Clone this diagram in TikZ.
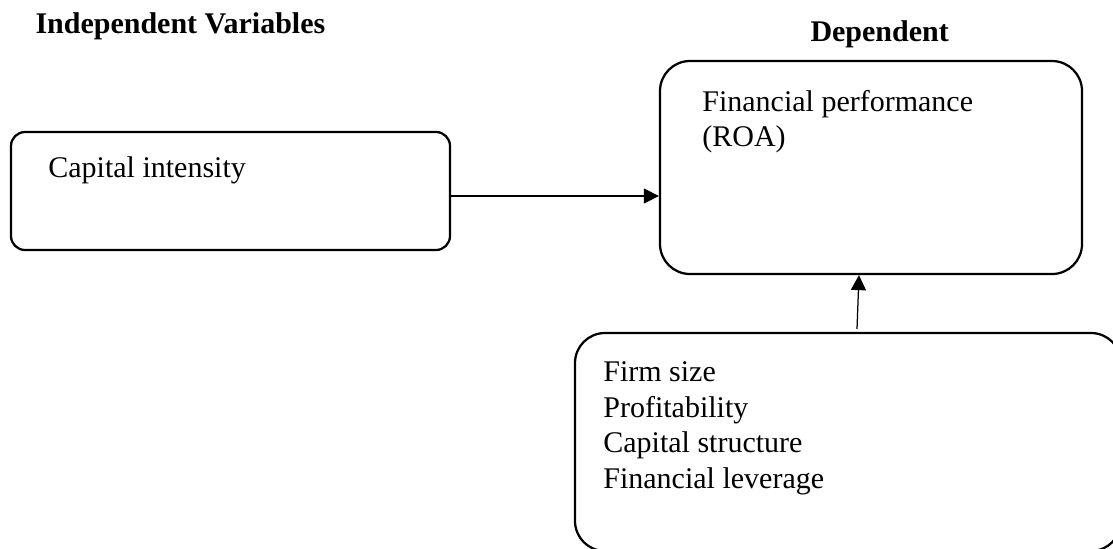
\documentclass[tikz,border=0pt]{standalone}
\usepackage{fontspec}
\setmainfont{Liberation Serif}
\usetikzlibrary{arrows.meta, positioning}
\tikzset{
    % Variable boxes - rounded rectangles, thick black outline
    var box/.style={rectangle, draw=black, line width=0.9pt, inner sep=0pt},
    % Text inside the boxes - top left, one item per line
    box text/.style={anchor=north west, inner sep=0pt, align=left, font=\fontsize{12}{14.2}\selectfont},
    % Column headings - bold
    heading/.style={anchor=base west, inner sep=0pt, font=\fontsize{12}{14.2}\selectfont\bfseries},
    % Links between variables - thin lines, filled triangle tips
    link/.style={line width=0.5pt, -{Triangle[length=6pt, width=6pt]}}
}

\begin{document}
\begin{tikzpicture}[x=0.4pt, y=-0.4pt]
    % --- Canvas ---
    \clip (0,0) rectangle (1113,548);

    % --- Headings ---
    \node[heading] (indep) at (35,33) {Independent Variables};
    \node[heading] (dep) at (810,41) {Dependent};

    % --- Boxes ---
    % Independent variable
    \node[var box, rounded corners=5.6pt, minimum width=175.6pt, minimum height=47.2pt] (capint) at (230.5,191) {};
    % Dependent variable
    \node[var box, rounded corners=12pt, minimum width=168.8pt, minimum height=85.2pt] (finperf) at (871,167.5) {};
    % Control variables (runs off the page at right and bottom)
    \node[var box, rounded corners=12pt, minimum width=218.4pt, minimum height=87.2pt] (controls) at (848,442) {};

    % --- Box texts ---
    \node[box text, below right=10.2pt and 15.2pt of capint.north west] (capint-t) {Capital intensity};
    \node[box text, below right=11.8pt and 17.2pt of finperf.north west] (finperf-t) {Financial performance\\(ROA)};
    \node[box text, below right=11.8pt and 11.6pt of controls.north west] (controls-t)
        {Firm size\\Profitability\\Capital structure\\Financial leverage};

    % --- Links ---
    \draw[link] ([yshift=-2pt]capint.east) -- ([yshift=-2pt]capint.east -| finperf.west);
    \draw[link] ([xshift=3.6pt, yshift=1.2pt]controls.north) -- ([xshift=-4.8pt]finperf.south);
\end{tikzpicture}
\end{document}
